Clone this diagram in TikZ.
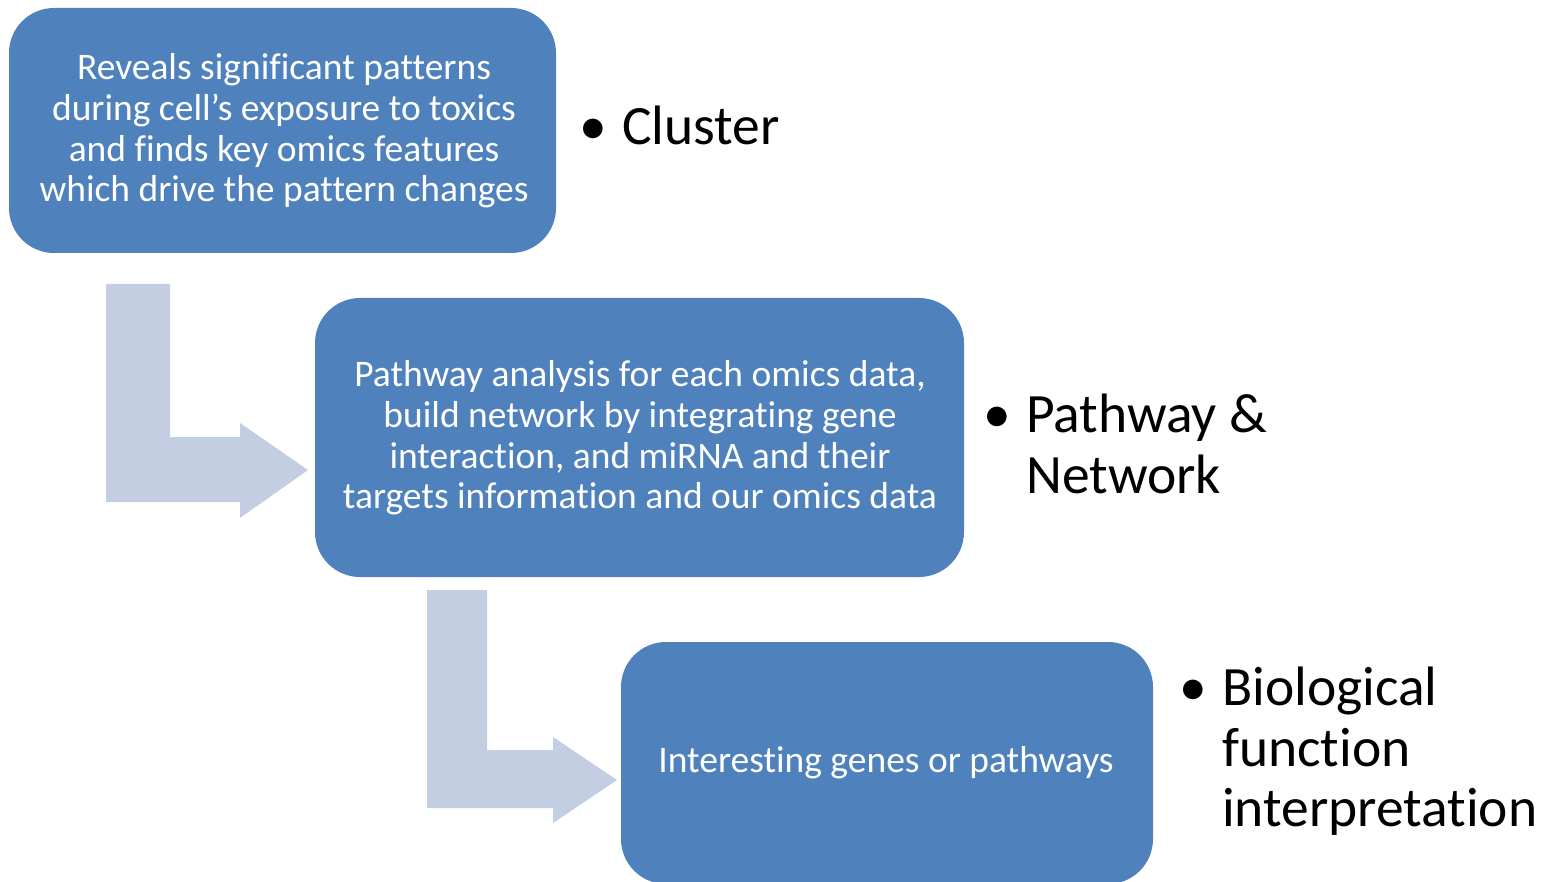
\documentclass[tikz,border=0pt]{standalone}
\usepackage{fontspec}
\setmainfont[Ligatures=NoCommon]{Carlito}
\definecolor{boxblue}{HTML}{4F81BD}
\definecolor{arrowblue}{HTML}{C4CEE3}
\begin{document}
\begin{tikzpicture}[x=1pt,y=-1pt,
  stagebox/.style={fill=boxblue, rounded corners=45pt},
  stagetext/.style={text=white, align=center, inner sep=0pt,
    font=\fontsize{37.5}{40.7}\selectfont},
  bentarrow/.style={fill=arrowblue},
  label/.style={anchor=north west, align=left, inner sep=0pt,
    font=\fontsize{55.5}{60.5}\selectfont}]
\useasboundingbox (0,0) rectangle (1544,882);

% process stages
\fill[stagebox] (9,8) rectangle (556,253);
\fill[stagebox] (315,298) rectangle (964,577);
\fill[stagebox] (621,642) rectangle (1153,884);

\node[stagetext] (t1) at (284,131) {Reveals significant patterns\\during cell’s exposure to toxics\\and finds key omics features\\which drive the pattern changes};
\node[stagetext] (t2) at (640,438) {Pathway analysis for each omics data,\\build network by integrating gene\\interaction, and miRNA and their\\targets information and our omics data};
\node[stagetext] (t3) at (886,763) {Interesting genes or pathways};

% bent arrows between stages
\fill[bentarrow] (106,284) -- (170,284) -- (170,437) -- (240,437) -- (240,423)
  -- (308,470) -- (240,518) -- (240,502) -- (106,502) -- cycle;
\fill[bentarrow] (427,590) -- (487,590) -- (487,750) -- (553,750) -- (553,737)
  -- (617,780) -- (553,823) -- (553,808) -- (427,808) -- cycle;

% stage labels
\node[label] (l1) at (622,106) {\llap{•\hspace{15pt}}Cluster};
\node[label] (l2) at (1026,394) {\llap{•\hspace{15pt}}Pathway \&\\Network};
\node[label] (l3) at (1222,667) {\llap{•\hspace{15pt}}Biological\\function\\interpretation};
\end{tikzpicture}
\end{document}
